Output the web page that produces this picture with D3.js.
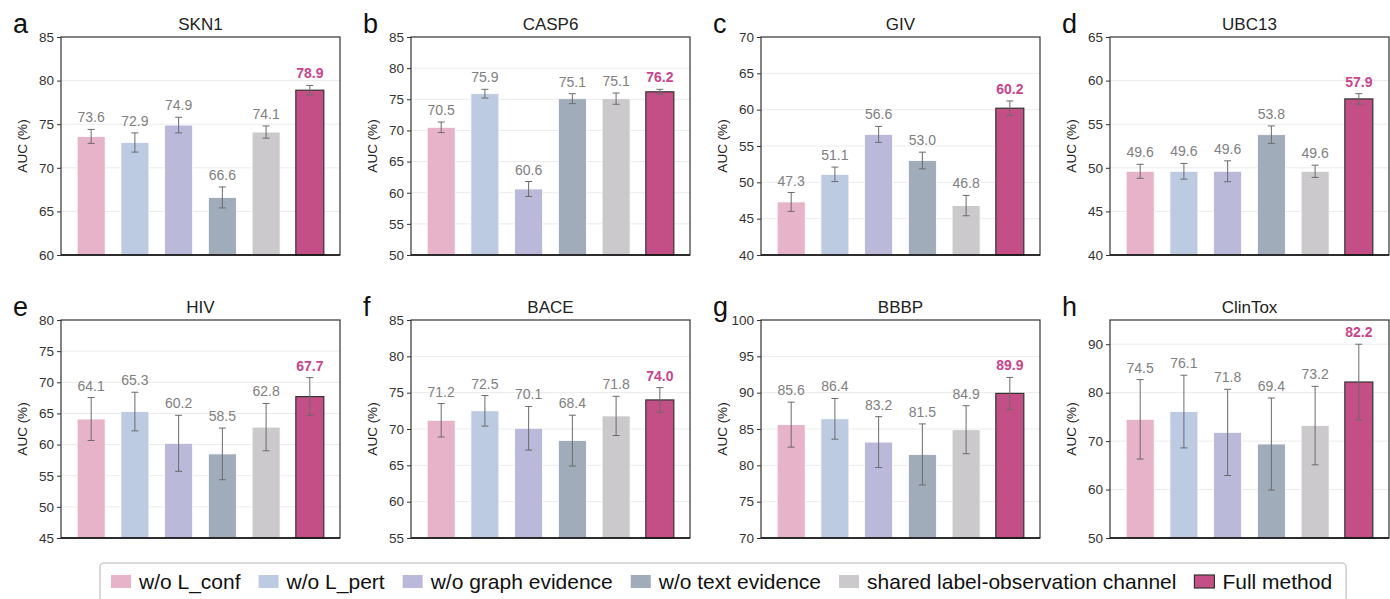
<!DOCTYPE html>
<html>
<head>
<meta charset="utf-8">
<script src="https://cdn.jsdelivr.net/npm/d3@7"></script>
<style>
  body { margin: 0; background: #fff; }
  svg { display: block; font-family: "Liberation Sans", Arial, sans-serif; }
</style>
</head>
<body>
<script>
const width = 1390;
const height = 599;

// data
const datasets = ["SKN1", "CASP6", "GIV", "UBC13", "HIV", "BACE", "BBBP", "ClinTox"];
const letters = ["a", "b", "c", "d", "e", "f", "g", "h"];
const methods = ["w/o L_conf", "w/o L_pert", "w/o graph evidence", "w/o text evidence",
                 "shared label-observation channel", "Full method"];
const means = [
    [73.6, 72.9, 74.9, 66.6, 74.1, 78.9],
    [70.5, 75.9, 60.6, 75.1, 75.1, 76.2],
    [47.3, 51.1, 56.6, 53.0, 46.8, 60.2],
    [49.6, 49.6, 49.6, 53.8, 49.6, 57.9],
    [64.1, 65.3, 60.2, 58.5, 62.8, 67.7],
    [71.2, 72.5, 70.1, 68.4, 71.8, 74.0],
    [85.6, 86.4, 83.2, 81.5, 84.9, 89.9],
    [74.5, 76.1, 71.8, 69.4, 73.2, 82.2]
];
const errors = [
    [0.8, 1.1, 0.9, 1.2, 0.7, 0.55],
    [0.85, 0.7, 1.2, 0.8, 0.9, 0.4],
    [1.3, 1.0, 1.1, 1.15, 1.4, 1.0],
    [0.8, 0.9, 1.2, 1.0, 0.7, 0.6],
    [3.45, 3.1, 4.5, 4.15, 3.8, 3.05],
    [2.3, 2.1, 3.0, 3.5, 2.7, 1.7],
    [3.1, 2.8, 3.5, 4.2, 3.3, 2.2],
    [8.2, 7.5, 8.9, 9.5, 8.1, 7.8]
];
const yMin = [60, 50, 40, 40, 45, 55, 70, 50];
const yMax = [85, 85, 70, 65, 80, 85, 100, 95];
const yStep = [5, 5, 5, 5, 5, 5, 5, 10];

const colors = ["#e7b3c8", "#bccae2", "#bab9da", "#a1acbb", "#cbc9cc", "#c44e86"];
const fullLabelColor = "#c9448b";

const svg = d3.select("body").append("svg")
    .attr("width", width)
    .attr("height", height);

const plotW = 279;
const colLeft = [61, 411, 761, 1110];
const rowTop = [37, 320];
const plotH = 218;

datasets.forEach(function (name, i) {
    const col = i % 4, row = Math.floor(i / 4);
    const x0 = colLeft[col], y0 = rowTop[row];
    const g = svg.append("g").attr("transform", "translate(" + x0 + "," + y0 + ")");

    const x = d3.scaleBand().domain(methods).range([0, plotW])
        .paddingInner(0.36).paddingOuter(0.37);
    const y = d3.scaleLinear().domain([yMin[i], yMax[i]]).range([plotH, 0]);
    const ticks = d3.range(yMin[i], yMax[i] + 0.001, yStep[i]);

    // grid
    g.append("g").selectAll("line")
        .data(ticks.filter(function (t) { return t > yMin[i] && t < yMax[i]; }))
        .enter().append("line")
        .attr("x1", 0).attr("x2", plotW)
        .attr("y1", function (d) { return y(d); })
        .attr("y2", function (d) { return y(d); })
        .attr("stroke", "#ebebeb")
        .attr("stroke-width", 1);

    const rows = methods.map(function (m, j) {
        return { method: m, mean: means[i][j], err: errors[i][j], j: j };
    });

    // bars
    g.append("g").selectAll("rect")
        .data(rows)
        .enter().append("rect")
        .attr("x", function (d) { return x(d.method); })
        .attr("width", x.bandwidth())
        .attr("y", function (d) { return y(d.mean); })
        .attr("height", function (d) { return plotH - y(d.mean); })
        .attr("fill", function (d) { return colors[d.j]; })
        .attr("stroke", function (d) { return d.j === 5 ? "#333" : "#fff"; })
        .attr("stroke-width", function (d) { return d.j === 5 ? 1.2 : 0.8; });

    // error bars
    const eb = g.append("g").selectAll("g")
        .data(rows)
        .enter().append("g")
        .attr("stroke", "#6b6b6b")
        .attr("stroke-width", 1);
    eb.append("line")
        .attr("x1", function (d) { return x(d.method) + x.bandwidth() / 2; })
        .attr("x2", function (d) { return x(d.method) + x.bandwidth() / 2; })
        .attr("y1", function (d) { return y(d.mean - d.err); })
        .attr("y2", function (d) { return y(d.mean + d.err); });
    [-1, 1].forEach(function (s) {
        eb.append("line")
            .attr("x1", function (d) { return x(d.method) + x.bandwidth() / 2 - 3.5; })
            .attr("x2", function (d) { return x(d.method) + x.bandwidth() / 2 + 3.5; })
            .attr("y1", function (d) { return y(d.mean + s * d.err); })
            .attr("y2", function (d) { return y(d.mean + s * d.err); });
    });

    // value labels
    g.append("g").selectAll("text")
        .data(rows)
        .enter().append("text")
        .attr("x", function (d) { return x(d.method) + x.bandwidth() / 2; })
        .attr("y", function (d) { return y(d.mean + d.err) - 7; })
        .attr("text-anchor", "middle")
        .attr("font-size", 14)
        .attr("font-weight", function (d) { return d.j === 5 ? "bold" : "normal"; })
        .attr("fill", function (d) { return d.j === 5 ? fullLabelColor : "#808080"; })
        .text(function (d) { return d.mean.toFixed(1); });

    // frame
    g.append("rect")
        .attr("x", 0).attr("y", 0).attr("width", plotW).attr("height", plotH)
        .attr("fill", "none").attr("stroke", "#333").attr("stroke-width", 1.2);
    g.append("line")
        .attr("x1", 0).attr("x2", plotW).attr("y1", plotH).attr("y2", plotH)
        .attr("stroke", "#111").attr("stroke-width", 1.6);

    // y axis
    const ax = g.append("g")
        .call(d3.axisLeft(y).tickValues(ticks).tickSize(4).tickPadding(3).tickFormat(d3.format("d")));
    ax.select(".domain").remove();
    ax.selectAll("line").attr("stroke", "#333");
    ax.selectAll("text").attr("font-size", 13.5).attr("fill", "#333")
        .attr("font-family", "'Liberation Sans', Arial, sans-serif");

    g.append("text")
        .attr("transform", "translate(-34," + plotH / 2 + ") rotate(-90)")
        .attr("text-anchor", "middle")
        .attr("font-size", 13.5)
        .attr("fill", "#222")
        .text("AUC (%)");

    g.append("text")
        .attr("x", plotW / 2).attr("y", -7)
        .attr("text-anchor", "middle")
        .attr("font-size", 17)
        .attr("fill", "#222")
        .text(name);

    g.append("text")
        .attr("x", -48).attr("y", -4)
        .attr("font-size", 27)
        .attr("fill", "#111")
        .text(letters[i]);
});

// legend
const legend = svg.append("g");
const legBox = legend.append("rect")
    .attr("fill", "#fff")
    .attr("stroke", "#cccccc")
    .attr("stroke-width", 1.5)
    .attr("rx", 4);
let lx = 111;
methods.forEach(function (m, j) {
    legend.append("rect")
        .attr("x", lx).attr("y", 575).attr("width", 20).attr("height", 13)
        .attr("fill", colors[j])
        .attr("stroke", j === 5 ? "#333" : "none")
        .attr("stroke-width", 1.2);
    const t = legend.append("text")
        .attr("x", lx + 28).attr("y", 589)
        .attr("font-size", 21)
        .attr("fill", "#111")
        .text(m);
    lx += 28 + t.node().getComputedTextLength() + 18;
});
legBox.attr("x", 100).attr("y", 563).attr("width", lx - 100 - 4).attr("height", 50);
</script>
</body>
</html>
